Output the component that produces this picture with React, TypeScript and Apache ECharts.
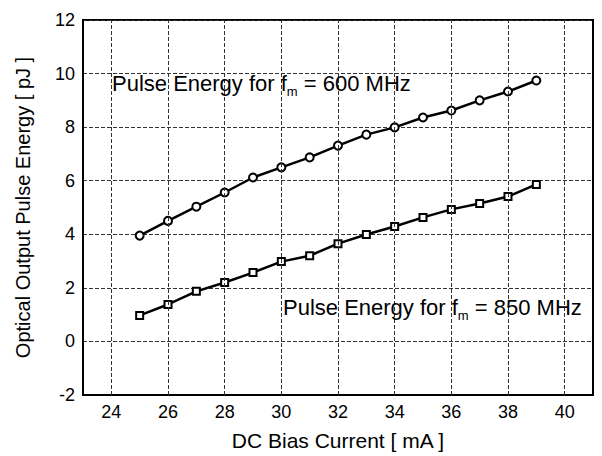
import React, { useEffect, useRef } from "react";
import * as echarts from "echarts";

// Bias current (mA)
const biasCurrent = [25, 26, 27, 28, 29, 30, 31, 32, 33, 34, 35, 36, 37, 38, 39];
// Pulse energy (pJ) at fm = 600 MHz
const energy600 = [3.95, 4.5, 5.03, 5.56, 6.12, 6.5, 6.87, 7.31, 7.72, 7.99, 8.36, 8.62, 9.0, 9.33, 9.74];
// Pulse energy (pJ) at fm = 850 MHz
const energy850 = [0.97, 1.38, 1.87, 2.2, 2.57, 2.98, 3.2, 3.65, 3.99, 4.29, 4.63, 4.93, 5.15, 5.41, 5.86];
// Labelled x ticks
const xTicks = [24, 26, 28, 30, 32, 34, 36, 38, 40];

const FONT = "'Liberation Sans', sans-serif";

export default function App() {
  const ref = useRef<HTMLDivElement>(null);

  useEffect(() => {
    if (!ref.current) return;
    const chart = echarts.init(ref.current, undefined, { renderer: "svg" });

    const gridLine = { color: "#333", width: 1, type: [4, 2] as number[] };
    const richLabel = (freq: string) => ({
      text: `{a|Pulse Energy for f}{s|m}{a| = ${freq} MHz}`,
      fill: "#000",
      fontFamily: FONT,
      fontSize: 22,
      rich: {
        a: { fontFamily: FONT, fontSize: 22, fill: "#000", color: "#000" },
        s: { fontFamily: FONT, fontSize: 13, fill: "#000", color: "#000", padding: [16, 0, 0, 0] },
      },
    });

    chart.setOption({
      animation: false,
      backgroundColor: "#fff",
      grid: {
        left: 83,
        top: 20,
        right: 9,
        bottom: 61,
        show: true,
        borderColor: "#000",
        borderWidth: 2,
        backgroundColor: "transparent",
      },
      xAxis: {
        type: "value",
        min: 23,
        max: 41,
        interval: 1,
        name: "DC Bias Current [ mA ]",
        nameLocation: "middle",
        nameGap: 35,
        nameTextStyle: { fontFamily: FONT, fontSize: 21, color: "#000" },
        axisLine: { show: true, onZero: false, lineStyle: { color: "#000", width: 2 } },
        axisTick: { show: false },
        splitLine: { show: false },
        axisLabel: {
          fontFamily: FONT,
          fontSize: 18,
          color: "#000",
          margin: 8,
          formatter: (v: number) => (xTicks.includes(v) ? String(v) : ""),
        },
      },
      yAxis: {
        type: "value",
        min: -2,
        max: 12,
        interval: 2,
        name: "Optical Output Pulse Energy [ pJ ]",
        nameLocation: "middle",
        nameGap: 50,
        nameTextStyle: { fontFamily: FONT, fontSize: 20, color: "#000" },
        axisLine: { show: true, onZero: false, lineStyle: { color: "#000", width: 2 } },
        axisTick: { show: false },
        splitLine: { show: true, lineStyle: gridLine },
        axisLabel: { fontFamily: FONT, fontSize: 18, color: "#000", margin: 8 },
      },
      series: [
        {
          type: "line",
          data: [],
          silent: true,
          markLine: {
            silent: true,
            symbol: "none",
            label: { show: false },
            lineStyle: gridLine,
            data: xTicks.map((t) => ({ xAxis: t })),
          },
        },
        {
          name: "600 MHz",
          type: "line",
          data: biasCurrent.map((x, i) => [x, energy600[i]]),
          symbol: "emptyCircle",
          symbolSize: 8,
          lineStyle: { color: "#000", width: 2.5 },
          itemStyle: { color: "#000", borderColor: "#000", borderWidth: 1.6 },
        },
        {
          name: "850 MHz",
          type: "line",
          data: biasCurrent.map((x, i) => [x, energy850[i]]),
          symbol: "emptyRect",
          symbolSize: 7,
          lineStyle: { color: "#000", width: 2.5 },
          itemStyle: { color: "#000", borderColor: "#000", borderWidth: 1.6 },
        },
      ],
      graphic: [
        { type: "text", left: 112, top: 72, z: 100, style: richLabel("600") },
        { type: "text", left: 283, top: 296, z: 100, style: richLabel("850") },
      ],
    });

    return () => chart.dispose();
  }, []);

  return (
    <div
      ref={ref}
      style={{ position: "absolute", left: 0, top: 0, width: 602, height: 456 }}
    />
  );
}
